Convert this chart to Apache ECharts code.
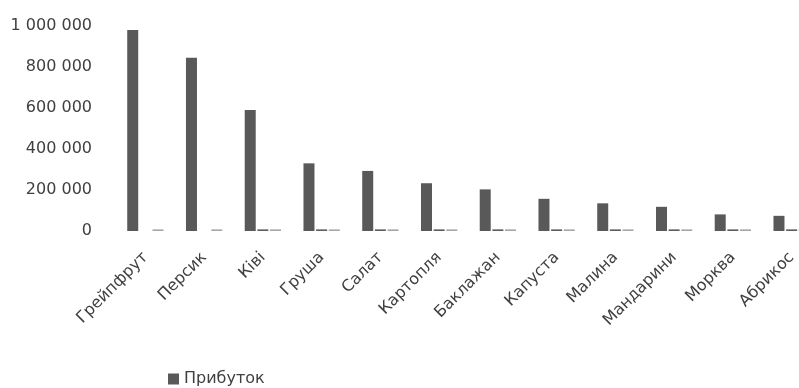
<!DOCTYPE html>
<html lang="uk">
<head>
    <meta charset="UTF-8">
    <title>Прибуток</title>
    <style>
        html, body { margin: 0; padding: 0; background: #fff; }
    </style>
</head>
<body>
<div id="main" style="width: 799px;height:388px;"></div>
<script src="https://cdn.jsdelivr.net/npm/echarts@6/dist/echarts.min.js"></script>
<script>
    // категорії
    var categories = ['Грейпфрут', 'Персик', 'Ківі', 'Груша', 'Салат', 'Картопля', 'Баклажан', 'Капуста', 'Малина', 'Мандарини', 'Морква', 'Абрикос'];
    // основний ряд
    var profit = [980000, 845000, 590000, 330000, 293000, 233000, 203000, 157000, 135000, 118000, 81000, 74000];
    // дрібні ряди біля нуля
    var quantity = [0, 0, 8000, 8000, 8000, 8000, 8000, 8000, 8000, 8000, 8000, 8000];
    var price = [8000, 8000, 8000, 8000, 8000, 8000, 8000, 8000, 8000, 8000, 8000, 8000];
    var yTicks = [0, 200000, 400000, 600000, 800000, 1000000];

    var myChart = echarts.init(document.getElementById('main'));
    var font = 'DejaVu Sans';

    function fmt(v) {
        return String(v).replace(/\B(?=(\d{3})+(?!\d))/g, ' ');
    }

    var option = {
        backgroundColor: '#fff',
        animation: false,
        textStyle: { fontFamily: font },
        legend: {
            data: ['Прибуток'],
            left: 163,
            top: 366,
            itemWidth: 11,
            itemHeight: 11,
            itemGap: 6,
            icon: 'rect',
            textStyle: { fontFamily: font, fontSize: 16, color: '#404040' }
        },
        grid: {
            left: 116,
            top: 26,
            width: 705,
            bottom: 157,
            outerBoundsMode: 'none'
        },
        xAxis: {
            type: 'category',
            data: categories,
            axisLine: { show: false },
            axisTick: { show: false },
            axisLabel: {
                interval: 0,
                rotate: 45,
                margin: 24,
                fontFamily: font,
                fontSize: 16,
                color: '#404040'
            }
        },
        yAxis: {
            type: 'value',
            min: yTicks[0],
            max: yTicks[yTicks.length - 1],
            interval: 200000,
            axisLine: { show: false },
            axisTick: { show: false },
            splitLine: { show: false },
            axisLabel: {
                margin: 24,
                fontFamily: font,
                fontSize: 16,
                color: '#404040',
                formatter: function (v) { return fmt(v); }
            }
        },
        series: [
            {
                name: 'Прибуток',
                type: 'bar',
                barWidth: 11,
                barGap: '15%',
                itemStyle: { color: '#595959' },
                data: profit
            },
            {
                name: 'Кількість',
                type: 'bar',
                barWidth: 11,
                barGap: '15%',
                itemStyle: { color: '#5e5e5e' },
                data: quantity
            },
            {
                name: 'Ціна',
                type: 'bar',
                barWidth: 11,
                barGap: '15%',
                itemStyle: { color: '#a8a8a8' },
                data: price
            }
        ]
    };

    myChart.setOption(option);
</script>
</body>
</html>
